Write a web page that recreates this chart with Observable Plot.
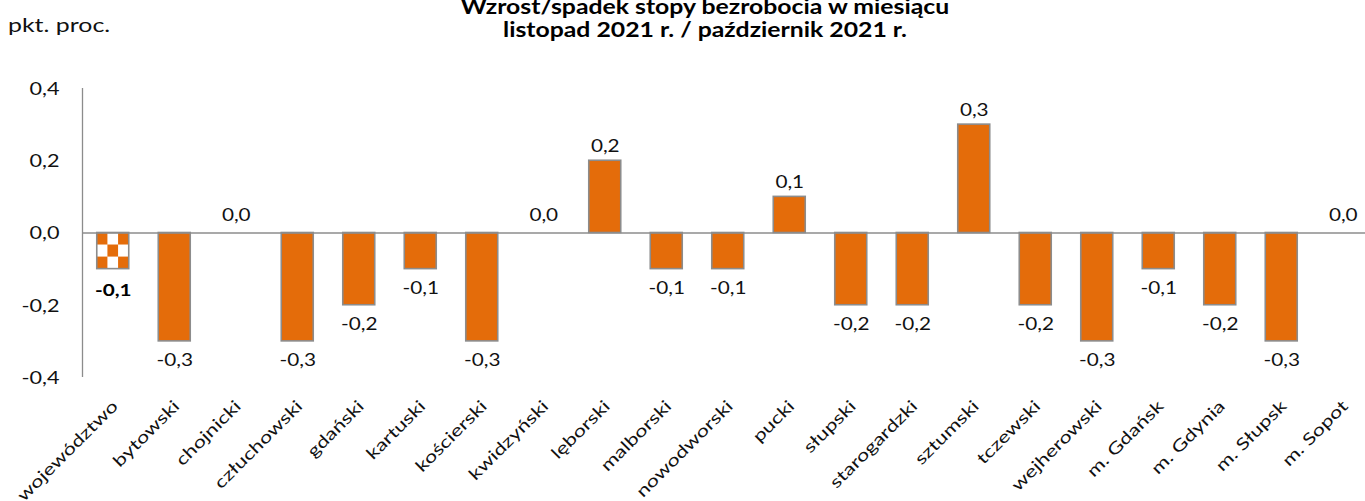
<!DOCTYPE html>
<html>
<head>
<meta charset="utf-8">
<script src="https://cdn.jsdelivr.net/npm/d3@7"></script>
<script src="https://cdn.jsdelivr.net/npm/@observablehq/plot@0.6"></script>
<style>
  html, body { margin: 0; padding: 0; background: #fff; }
  #wrap { position: relative; width: 1365px; height: 501px; overflow: hidden; font-family: Lato, "Open Sans", sans-serif; }
  #unit { position: absolute; left: 8px; top: 15px; font-size: 19px; line-height: 19px; color: #111; transform: scaleX(1.31); transform-origin: left top; white-space: nowrap; }
  #title { position: absolute; left: 305px; width: 800px; top: -6px; text-align: center; font-weight: bold; font-size: 21px; line-height: 23px; color: #000; transform: scaleX(1.18); transform-origin: center top; white-space: nowrap; }
  #chart { position: absolute; left: 0; top: 0; }
</style>
</head>
<body>
<div id="wrap">
  <div id="chart"></div>
  <div id="unit">pkt. proc.</div>
  <div id="title">Wzrost/spadek stopy bezrobocia w miesiącu<br>listopad 2021 r. / październik 2021 r.</div>
</div>
<script>
const categories = ["województwo","bytowski","chojnicki","człuchowski","gdański","kartuski","kościerski","kwidzyński","lęborski","malborski","nowodworski","pucki","słupski","starogardzki","sztumski","tczewski","wejherowski","m. Gdańsk","m. Gdynia","m. Słupsk","m. Sopot"];
const values = [-0.1,-0.3,0.0,-0.3,-0.2,-0.1,-0.3,0.0,0.2,-0.1,-0.1,0.1,-0.2,-0.2,0.3,-0.2,-0.3,-0.1,-0.2,-0.3,0.0];
const yTicks = [-0.4,-0.2,0,0.2,0.4];

const data = categories.map((c,i) => ({name: c, value: values[i], first: i === 0}));
const rest = data.filter(d => !d.first);
const first = data.filter(d => d.first);
const fmt = v => v.toFixed(1).replace(".", ",");
const orange = "#E46C0A";
const gray = "#8c8c8c";
const ink = "#111";
const FONT = "Lato, 'Open Sans', sans-serif";
const STEP = 61.5;

const plot = Plot.plot({
  width: 1365,
  height: 501,
  marginLeft: 82,
  marginRight: 0,
  marginTop: 88,
  marginBottom: 124,
  style: {fontFamily: FONT, background: "transparent", overflow: "visible"},
  x: {domain: categories, range: [82, 82 + 21 * STEP], round: false, paddingInner: 0.48, paddingOuter: 0.24, axis: null},
  y: {domain: [-0.4, 0.4], axis: null},
  marks: [
    Plot.barY(rest, {x: "name", y: "value", fill: orange, stroke: gray, strokeWidth: 1.6}),
    Plot.barY(first, {x: "name", y: "value", fill: "url(#checker)", stroke: gray, strokeWidth: 1.6}),
    Plot.ruleY([0], {stroke: gray, strokeWidth: 1.3}),
    Plot.ruleX([categories[0]], {x: d => d, y1: -0.4, y2: 0.4, dx: -STEP / 2, stroke: gray, strokeWidth: 1.3}),
    Plot.axisY({ticks: yTicks, tickSize: 0, tickPadding: 23, tickFormat: fmt, fontSize: 16.5, fill: ink, dy: 1, label: null}),
    Plot.text(rest.filter(d => d.value > 0), {x: "name", y: "value", text: d => fmt(d.value), dy: -14.5, fontSize: 17, fill: ink, lineAnchor: "middle"}),
    Plot.text(rest.filter(d => d.value < 0), {x: "name", y: "value", text: d => fmt(d.value), dy: 19, fontSize: 17, fill: ink, lineAnchor: "middle"}),
    Plot.text(rest.filter(d => d.value === 0), {x: "name", y: "value", text: d => fmt(d.value), dy: -17, fontSize: 17, fill: ink, lineAnchor: "middle"}),
    Plot.text(first, {x: "name", y: "value", text: d => fmt(d.value), dy: 21, fontSize: 17, fontWeight: "bold", fill: "#000", lineAnchor: "middle"}),
    Plot.text(categories, {x: d => d, y: () => -0.4, text: d => d, rotate: -45, textAnchor: "end", lineAnchor: "middle", dx: 2, dy: 26, fontSize: 16.5, fill: ink})
  ]
});
document.getElementById("chart").appendChild(plot);

const svg = d3.select(plot);

// widen the lettering along each text's baseline (the reference uses a wide face)
function stretch(sel, s) {
  sel.selectAll("text").each(function() {
    const len = this.getComputedTextLength();
    if (len > 0) {
      this.setAttribute("textLength", (len * s).toFixed(2));
      this.setAttribute("lengthAdjust", "spacingAndGlyphs");
    }
  });
}
stretch(svg.selectAll("g[aria-label='y-axis tick label']"), 1.31);
const textGroups = svg.selectAll("g[aria-label='text']").nodes();
textGroups.forEach((g, i) => stretch(d3.select(g), i === textGroups.length - 1 ? 1.32 : 1.22));

// checker pattern for the voivodeship bar
const xs = plot.scale("x");
const ys = plot.scale("y");
const bx = xs.apply(categories[0]);
const by = ys.apply(0);
const cw = xs.bandwidth / 3;
const ch = (ys.apply(values[0]) - by) / 3;
const defs = svg.insert("defs", ":first-child");
const pat = defs.append("pattern").attr("id", "checker").attr("patternUnits", "userSpaceOnUse")
  .attr("x", bx).attr("y", by).attr("width", cw * 2).attr("height", ch * 2);
pat.append("rect").attr("width", cw * 2).attr("height", ch * 2).attr("fill", "#fff");
pat.append("rect").attr("width", cw).attr("height", ch).attr("fill", orange);
pat.append("rect").attr("x", cw).attr("y", ch).attr("width", cw).attr("height", ch).attr("fill", orange);
</script>
</body>
</html>
